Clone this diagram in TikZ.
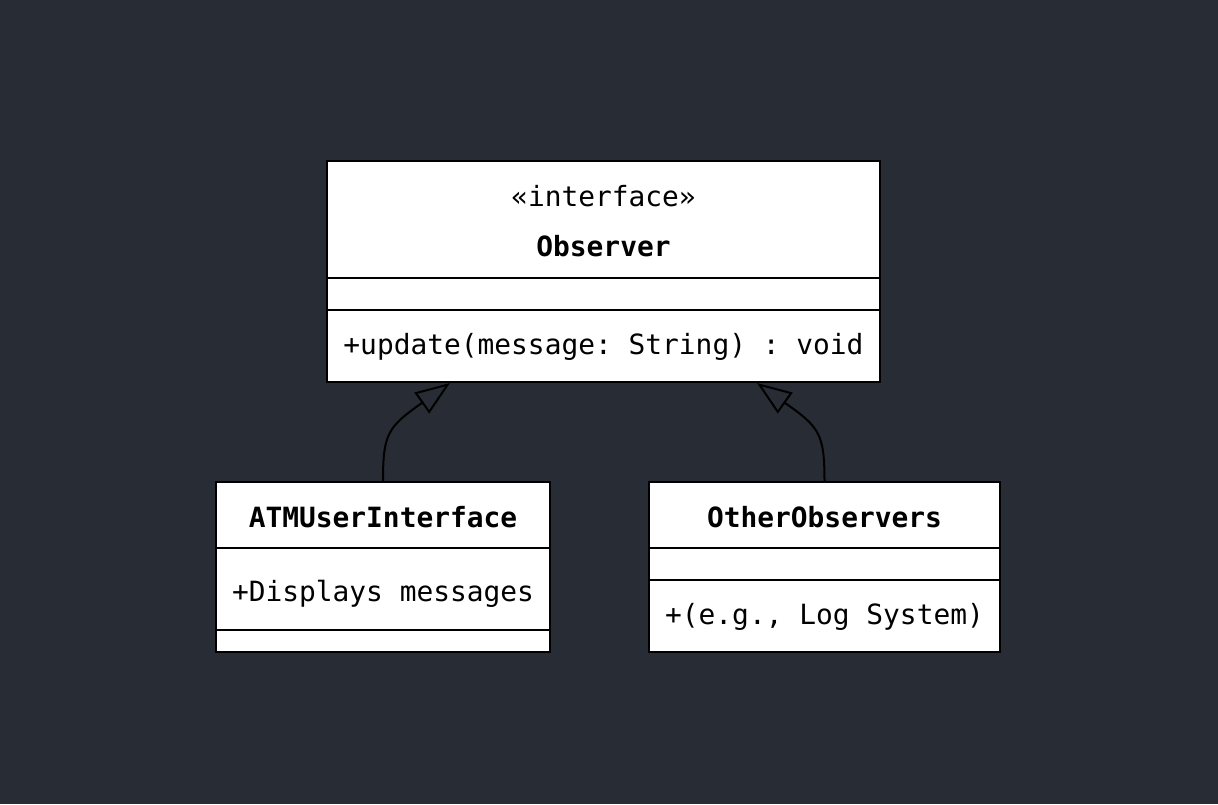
\documentclass[tikz,border=0pt]{standalone}
\usepackage{fontspec}
\setmonofont{DejaVu Sans Mono}
\usetikzlibrary{arrows.meta}
\definecolor{bg}{RGB}{40,44,52}
\begin{document}
\begin{tikzpicture}[x=0.75pt,y=-0.75pt,
  box/.style={draw=black,fill=white,line width=1.5pt,rectangle,inner sep=0pt},
  txt/.style={anchor=base,inner sep=0pt,font=\fontsize{20.9}{25}\selectfont\ttfamily,text=black},
  ttl/.style={txt,font=\fontsize{20.9}{25}\selectfont\ttfamily\bfseries},
  sep/.style={draw=black,line width=1.5pt},
  inh/.style={draw=black,line width=1.5pt,-{Triangle[open,length=26pt,width=19pt,line width=1.5pt]}}]
\fill[bg] (0,0) rectangle (1218,804);
\useasboundingbox (0,0) rectangle (1218,804);
% Observer
\node[box,minimum width=553*0.75pt,minimum height=221*0.75pt] (obs) at (603.5,271.5) {};
\draw[sep] (obs.west |- 0,278) -- (obs.east |- 0,278);
\draw[sep] (obs.west |- 0,310) -- (obs.east |- 0,310);
\node[txt] (obsst) at (603.5,206) {«interface»};
\node[ttl] (obsname) at (603.5,256.5) {Observer};
\node[txt] (obsm) at (603.5,354) {+update(message: String) : void};
% ATMUserInterface
\node[box,minimum width=334*0.75pt,minimum height=170*0.75pt] (atm) at (383,567) {};
\draw[sep] (atm.west |- 0,548) -- (atm.east |- 0,548);
\draw[sep] (atm.west |- 0,630) -- (atm.east |- 0,630);
\node[ttl] (atmname) at (383,527.5) {ATMUserInterface};
\node[txt] (atma) at (383,601) {+Displays messages};
% OtherObservers
\node[box,minimum width=351*0.75pt,minimum height=170*0.75pt] (oth) at (824.5,567) {};
\draw[sep] (oth.west |- 0,548) -- (oth.east |- 0,548);
\draw[sep] (oth.west |- 0,580) -- (oth.east |- 0,580);
\node[ttl] (othname) at (824.5,527.5) {OtherObservers};
\node[txt] (othm) at (824.5,624.5) {+(e.g., Log System)};
% connectors
\path (obs.south) ++(-153.5,0) coordinate (tipL);
\path (obs.south) ++(153.5,0) coordinate (tipR);
\draw[inh] (atm.north) .. controls +(0,-48) and +(-62,44) .. (tipL);
\draw[inh] (oth.north) .. controls +(0,-48) and +(62,44) .. (tipR);
\end{tikzpicture}
\end{document}
